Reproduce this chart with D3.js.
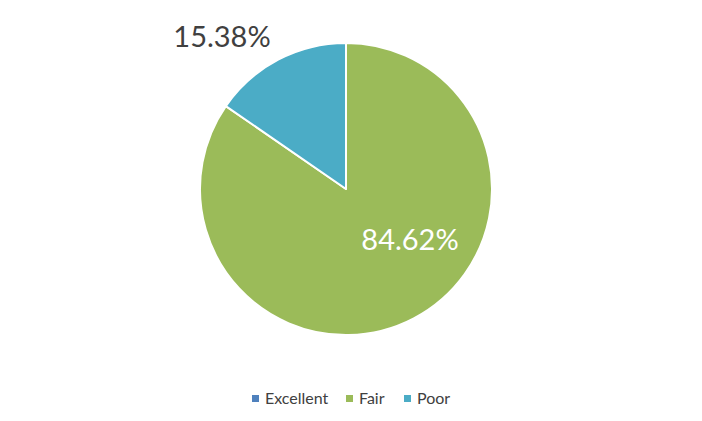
<!DOCTYPE html>
<html><head><meta charset="utf-8">
<script src="https://cdn.jsdelivr.net/npm/d3@7"></script>
<style>body{margin:0;background:#fff;}svg{display:block;font-family:Lato,"Open Sans",sans-serif;}</style>
</head><body><svg id="c" width="702" height="421"></svg>
<script>
const categories = ["Excellent", "Fair", "Poor"];
const values = [0, 11, 2];
const labels = ["0.00%", "84.62%", "15.38%"];
const colors = ["#4F81BD", "#9BBB59", "#4BACC6"];

const svg = d3.select("#c");
const cx = 346, cy = 189, r = 146;
const pie = d3.pie().sort(null).value(d => d.v);
const data = categories.map((c, i) => ({c, v: values[i], l: labels[i], col: colors[i]}));
const arcs = pie(data);
const arc = d3.arc().innerRadius(0).outerRadius(r);
const g = svg.append("g").attr("transform", `translate(${cx},${cy})`);
g.selectAll("path").data(arcs.filter(a => a.data.v > 0)).join("path")
  .attr("d", arc).attr("fill", d => d.data.col)
  .attr("stroke", "#fff").attr("stroke-width", 2).attr("stroke-linejoin", "round");

arcs.forEach(a => {
  if (a.data.v === 0) return;
  let x, y, fill;
  if (a.data.c === "Fair") {
    x = 410 - cx; y = 250 - cy; fill = "#fff";
  } else {
    x = 222 - cx; y = 47 - cy; fill = "#404040";
  }
  g.append("text").attr("x", x).attr("y", y).attr("text-anchor", "middle")
    .attr("font-size", 29).attr("fill", fill).text(a.data.l);
});

// legend
const legX = [252, 346, 404];
const leg = svg.append("g");
data.forEach((d, i) => {
  leg.append("rect").attr("x", legX[i]).attr("y", 395).attr("width", 7).attr("height", 7).attr("fill", d.col);
  leg.append("text").attr("x", legX[i] + 13).attr("y", 404).attr("font-size", 16).attr("fill", "#404040").text(d.c);
});
</script></body></html>
